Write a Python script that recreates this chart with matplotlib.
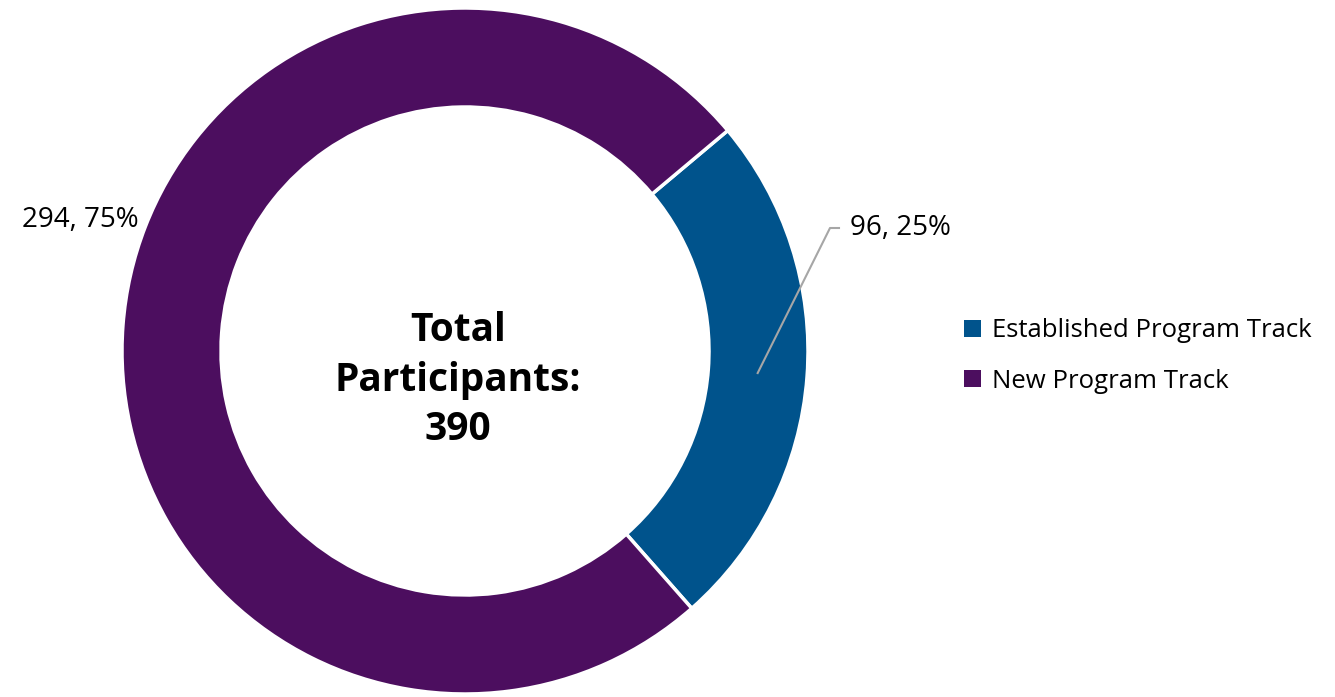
import matplotlib
matplotlib.use("Agg")
import matplotlib.pyplot as plt
import numpy as np
from matplotlib.patches import Patch

categories = ["Established Program Track", "New Program Track"]
values = [96, 294]
colors = ["#00538C", "#4C0E5F"]
center_title = "Total\nParticipants:\n390"

W, H = 1335, 697
fig = plt.figure(figsize=(W / 100, H / 100), dpi=100)
ax = fig.add_axes([0, 0, 1, 1])
ax.set_xlim(0, W)
ax.set_ylim(0, H)
ax.set_aspect("equal")
ax.axis("off")

FONT = "Open Sans"
cx, cy = 465, 697 - 351
R = 343
width = 99

wedges, _ = ax.pie(values, colors=colors, startangle=40, counterclock=False,
                   center=(cx, cy), radius=R,
                   wedgeprops=dict(width=width, edgecolor="white", linewidth=2.5))
ax.set_xlim(0, W)
ax.set_ylim(0, H)

total = sum(values)
pcts = [round(v / total * 100) for v in values]

# Established label with leader line
w0 = wedges[0]
mid = np.deg2rad((w0.theta1 + w0.theta2) / 2)
rm = R - width / 2
x0, y0 = cx + rm * np.cos(mid), cy + rm * np.sin(mid)
x1, y1 = 830, 697 - 228
ax.plot([x0, x1, x1 + 9], [y0, y1, y1], color="#A6A6A6", lw=1.5)
ax.text(x1 + 20, y1, f"{values[0]}, {pcts[0]}%", ha="left", va="center",
        fontsize=20, family=FONT, color="black")

# New label
ax.text(80, 697 - 220, f"{values[1]}, {pcts[1]}%", ha="center", va="center",
        fontsize=20, family=FONT, color="black")

ax.text(cx - 7, 697 - 380, center_title, ha="center", va="center",
        fontsize=28, fontweight="bold", family=FONT, linespacing=1.36)

handles = [Patch(facecolor=c, edgecolor="none") for c in colors]
leg = fig.legend(handles, categories, loc="center left",
                 bbox_to_anchor=(941 / W, 1 - 356 / H), frameon=False,
                 prop=dict(family=FONT, size=18.5), handlelength=0.65,
                 handleheight=0.65, handletextpad=0.45, labelspacing=1.0)

fig.savefig("out.png", dpi=100)
